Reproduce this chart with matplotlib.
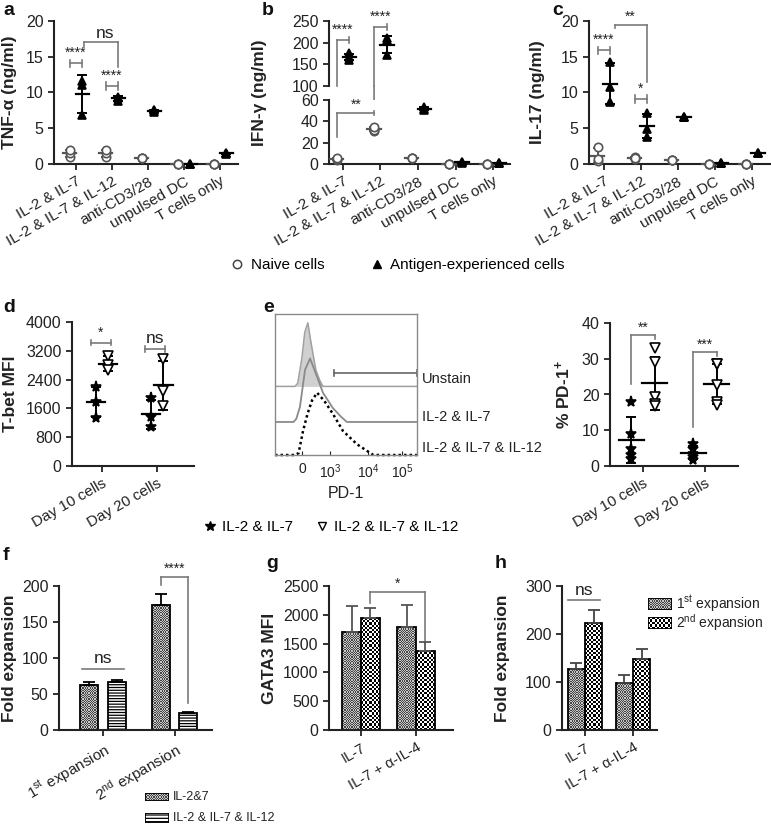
import numpy as np
import matplotlib
matplotlib.use('Agg')
import matplotlib.pyplot as plt
from matplotlib.lines import Line2D
from matplotlib.patches import ConnectionPatch
from matplotlib.colors import ListedColormap

plt.rcParams['font.family'] = 'Liberation Sans'
plt.rcParams['mathtext.fontset'] = 'custom'
plt.rcParams['mathtext.rm'] = 'Liberation Sans'
plt.rcParams['mathtext.bf'] = 'Liberation Sans:bold'
plt.rcParams['mathtext.it'] = 'Liberation Sans:italic'
plt.rcParams['mathtext.default'] = 'regular'
plt.rcParams['hatch.linewidth'] = 0.9

# ---------------- data ----------------
stim_cats = ['IL-2 & IL-7', 'IL-2 & IL-7 & IL-12', 'anti-CD3/28', 'unpulsed DC', 'T cells only']

tnf_naive = [[1.0, 1.5, 2.0], [1.0, 1.5, 2.0], [0.9, 0.9, 0.9], [0, 0, 0], [0, 0, 0]]
tnf_antigen = [[11.6, 11.0, 6.8], [9.4, 8.8, 9.3], [7.5, 7.3, 7.6], [0.05, 0.05, 0.05], [1.5, 1.6, 1.4]]

ifn_naive = [[4, 5, 6], [31, 32, 35], [6, 6, 6], [0, 0, 0], [0, 0, 0]]
ifn_antigen = [[175, 166, 161], [210, 205, 172], [51, 52, 53], [1, 1.5, 2], [0.5, 0.5, 0.5]]

il17_naive = [[2.4, 0.4, 0.7], [1.0, 0.7, 0.8], [0.6, 0.6, 0.6], [0, 0, 0], [0, 0, 0]]
il17_antigen = [[14.3, 10.7, 8.7], [7.1, 4.9, 3.8], [6.6, 6.6, 6.6], [0.1, 0.1, 0.1], [1.5, 1.5, 1.5]]

day_cats = ['Day 10 cells', 'Day 20 cells']
tbet_il27 = [[2190, 1790, 1340], [1880, 1350, 1090]]
tbet_il12 = [[3060, 2810, 2670], [2980, 2080, 1660]]
pd1_il27 = [[17.9, 9.0, 4.8, 3.0, 2.0], [6.2, 4.8, 3.4, 2.5, 1.6]]
pd1_il12 = [[33.0, 29.0, 19.3, 17.4, 16.7], [28.6, 28.4, 22.6, 17.9, 17.2]]

# PD-1 histograms (display position on biexponential axis, % of mode)
pd1_ticks = [0, 1, 2.36, 3.57]
pd1_ticklabels = ['0', '$10^3$', '$10^4$', '$10^5$']
unstain_x = [-0.96, -0.25, -0.15, 0.0, 0.1, 0.21, 0.3, 0.39, 0.5, 0.64, 0.75, 4.1]
unstain_y = [0, 0, 5, 45, 85, 100, 75, 52, 25, 9, 0, 0]
il27_x = [-0.96, -0.3, -0.2, -0.07, 0.11, 0.29, 0.54, 0.75, 1.1, 1.4, 1.6, 4.1]
il27_y = [0, 0, 5, 24, 82, 100, 71, 46, 22, 8, 0, 0]
il12_x = [-0.96, -0.25, -0.12, 0.04, 0.2, 0.36, 0.54, 0.8, 1.1, 1.46, 1.96, 2.3, 2.55, 4.1]
il12_y = [0, 0, 3, 38, 65, 86, 98, 85, 65, 38, 17, 7, 0, 0]
hist_offsets = [108, 52, 0]
gate_start = 1.14

exp_cats = ['$\\mathrm{1^{st}\\ expansion}$', '$\\mathrm{2^{nd}\\ expansion}$']
fold_il27 = [62, 173]
fold_il27_sd = [5, 16]
fold_il12 = [67, 23]
fold_il12_sd = [2, 2]

il4_cats = ['IL-7', 'IL-7 + α-IL-4']
gata3_first = [1710, 1790]
gata3_first_sd = [440, 380]
gata3_second = [1940, 1380]
gata3_second_sd = [170, 140]
fold_first = [127, 97]
fold_first_sd = [13, 18]
fold_second = [222, 147]
fold_second_sd = [28, 22]

# ---------------- helpers ----------------
W, H = 771, 830
fig = plt.figure(figsize=(W / 100, H / 100), dpi=100)


def px_ax(l, t, r, b):
    return fig.add_axes([l / W, 1 - b / H, (r - l) / W, (b - t) / H])


def style(ax, size=11.5):
    for s in ('top', 'right'):
        ax.spines[s].set_visible(False)
    for s in ('left', 'bottom'):
        ax.spines[s].set_linewidth(1.5)
        ax.spines[s].set_color('#222')
    ax.tick_params(width=1.3, length=4, labelsize=size, colors='#222')


def scatter_sd(ax, x, vals, marker, mfc, col, ms=6, hw=0.18, rng=None):
    vals = np.asarray(vals, float)
    m, sd = vals.mean(), vals.std(ddof=1)
    if rng is not None and not (rng[0] <= m <= rng[1]):
        return
    ax.plot(np.full(len(vals), x), vals, ls='none', marker=marker, mfc=mfc, mec=col,
            mew=1.2, ms=ms, clip_on=False, zorder=4)
    ax.errorbar(x, m, yerr=sd, fmt='none', ecolor=col, elinewidth=1.4, capsize=3.5,
                capthick=1.4, clip_on=False, zorder=3)
    ax.plot([x - hw, x + hw], [m, m], color=col, lw=1.6, clip_on=False, zorder=3)


def bracket(ax, x1, x2, y, left, right, txt, fs=10, tx=None, ty=None):
    ax.plot([x1, x2], [y, y], color='#7a7a7a', lw=1.2, clip_on=False)
    ax.plot([x1, x1], left, color='#7a7a7a', lw=1.2, clip_on=False)
    ax.plot([x2, x2], right, color='#7a7a7a', lw=1.2, clip_on=False)
    ax.text((x1 + x2) / 2 if tx is None else tx, max(left + right) if ty is None else ty,
            txt, ha='center', va='bottom', fontsize=fs, color='#222')


def checker(ax, rect, cell, colors):
    x0, y0 = rect.get_x(), rect.get_y()
    w, h = rect.get_width(), rect.get_height()
    (a0, b0), (a1, b1) = ax.transData.transform([(x0, y0), (x0 + w, y0 + h)])
    nx = max(1, int(round((a1 - a0) / cell)))
    ny = max(1, int(round((b1 - b0) / cell)))
    grid = np.indices((ny, nx)).sum(axis=0) % 2
    im = ax.imshow(grid, extent=(x0, x0 + w, y0, y0 + h), cmap=ListedColormap(colors),
                   origin='lower', interpolation='nearest', aspect='auto', zorder=1.5)
    im.set_clip_path(rect)


FINE = (1.2, ['#444444', '#c8c8c8'])
COARSE = (2.2, ['black', 'white'])


def cyto_panel(ax, naive, antigen, rng=None):
    for i in range(len(stim_cats)):
        scatter_sd(ax, i - 0.17, naive[i], 'o', 'white', '#555', ms=6, rng=rng)
        scatter_sd(ax, i + 0.17, antigen[i], '^', 'black', 'black', ms=6, rng=rng)


def ylab(ax, text, right_px, left_px, width_px, yfrac=0.5):
    ax.set_ylabel(text, fontsize=12.5, fontweight='bold', color='#222')
    ax.yaxis.set_label_coords((right_px - left_px) / width_px, yfrac)


# ---------------- a ----------------
axa = px_ax(54, 21, 238, 164)
style(axa)
cyto_panel(axa, tnf_naive, tnf_antigen)
axa.set_xlim(-0.61, 4.5)
axa.set_ylim(0, 20)
axa.set_yticks([0, 5, 10, 15, 20])
axa.set_xticks(range(5))
axa.set_xticklabels(stim_cats, rotation=30, ha='right', rotation_mode='anchor', fontsize=11)
ylab(axa, 'TNF-α (ng/ml)', 17, 54, 184)
bracket(axa, -0.17, 0.17, 14.1, [13.6, 14.6], [13.6, 14.6], '****')
bracket(axa, 0.83, 1.17, 10.9, [10.4, 11.4], [10.4, 11.4], '****')
bracket(axa, 0.22, 1.17, 17.0, [16.4, 17.0], [13.6, 17.0], 'ns', fs=12.5, tx=0.8, ty=17.2)

# ---------------- b (broken axis) ----------------
axbt = px_ax(329, 21, 510, 86)
axb = px_ax(329, 100, 510, 164)
for ax in (axbt, axb):
    style(ax)
    ax.set_xlim(-0.37, 4.45)
axbt.spines['bottom'].set_visible(False)
axbt.tick_params(axis='x', bottom=False, labelbottom=False)
cyto_panel(axbt, ifn_naive, ifn_antigen, rng=(80, 300))
cyto_panel(axb, ifn_naive, ifn_antigen, rng=(-1, 80))
axbt.set_ylim(100, 250)
axbt.set_yticks([100, 150, 200, 250])
axb.set_ylim(0, 60)
axb.set_yticks([0, 20, 40, 60])
axb.set_xticks(range(5))
axb.set_xticklabels(stim_cats, rotation=30, ha='right', rotation_mode='anchor', fontsize=11)
ylab(axb, 'IFN-γ (ng/ml)', 267, 329, 181, (164 - 93) / 64)
bracket(axbt, -0.17, 0.17, 206, [100, 206], [200, 212], '****', ty=213)
bracket(axbt, 0.83, 1.17, 236, [100, 236], [230, 242], '****', ty=243)
axbt.add_artist(ConnectionPatch(xyA=(0.83, 43), coordsA=axb.transData,
                                xyB=(0.83, 100), coordsB=axbt.transData,
                                color='#7a7a7a', lw=1.2))
bracket(axb, -0.17, 0.83, 47.5, [25.6, 47.5], [45.5, 49.5], '**', tx=0.35, ty=49)

# ---------------- c ----------------
axc = px_ax(589, 21, 770, 164)
style(axc)
cyto_panel(axc, il17_naive, il17_antigen)
axc.set_xlim(-0.4, 4.49)
axc.set_ylim(0, 20)
axc.set_yticks([0, 5, 10, 15, 20])
axc.set_xticks(range(5))
axc.set_xticklabels(stim_cats, rotation=30, ha='right', rotation_mode='anchor', fontsize=11)
ylab(axc, 'IL-17 (ng/ml)', 545, 589, 181)
bracket(axc, -0.17, 0.17, 15.9, [15.4, 16.4], [15.4, 16.4], '****')
bracket(axc, 0.83, 1.17, 9.1, [8.6, 9.6], [8.6, 9.6], '*')
bracket(axc, 0.3, 1.17, 19.5, [19.0, 19.5], [11.5, 19.5], '**', tx=0.72, ty=19.6)

fig.legend(handles=[Line2D([], [], ls='none', marker='o', mfc='white', mec='#444', mew=1.1, ms=6),
                    Line2D([], [], ls='none', marker='^', color='black', ms=6)],
           labels=['Naive cells', 'Antigen-experienced cells'], loc='center',
           bbox_to_anchor=(398 / W, 1 - 265 / H), ncol=2, frameon=False, fontsize=11,
           handlelength=0.8, handletextpad=0.5, columnspacing=3.0)

# ---------------- d ----------------
axd = px_ax(72, 322, 194, 466)
style(axd)
for i in range(2):
    scatter_sd(axd, i - 0.11, tbet_il27[i], '*', 'black', 'black', ms=8, hw=0.17)
    scatter_sd(axd, i + 0.11, tbet_il12[i], 'v', 'white', 'black', ms=6.5, hw=0.17)
axd.set_xlim(-0.545, 1.67)
axd.set_ylim(0, 4000)
axd.set_yticks(np.arange(0, 4001, 800))
axd.set_xticks(range(2))
axd.set_xticklabels(day_cats, rotation=30, ha='right', rotation_mode='anchor', fontsize=11)
ylab(axd, 'T-bet MFI', 18, 72, 122)
bracket(axd, -0.2, 0.16, 3430, [3360, 3500], [3360, 3500], '*')
bracket(axd, 0.78, 1.15, 3250, [3180, 3320], [3180, 3320], 'ns', fs=12.5)

# ---------------- e histogram ----------------
axh = px_ax(275, 314, 417, 455)
for s in axh.spines.values():
    s.set_color('#8a8a8a')
    s.set_linewidth(1.0)
axh.fill_between(unstain_x, hist_offsets[0], hist_offsets[0] + np.array(unstain_y),
                 color='#d0d0d0', lw=0)
axh.plot(unstain_x, hist_offsets[0] + np.array(unstain_y), color='#a0a0a0', lw=1.1)
axh.plot(il27_x, hist_offsets[1] + np.array(il27_y), color='#8a8a8a', lw=1.3)
axh.plot(il12_x, hist_offsets[2] + np.array(il12_y), color='black', lw=1.8,
         ls=(0, (1.0, 1.2)), clip_on=False)
axh.plot([gate_start, 4.1], [129, 129], color='#666', lw=1.2, clip_on=False)
axh.plot([gate_start, gate_start], [124, 134], color='#666', lw=1.2)
axh.plot([4.1, 4.1], [124, 134], color='#666', lw=1.2, clip_on=False)
axh.set_xlim(-0.96, 4.1)
axh.set_ylim(0, 222)
axh.set_yticks([])
axh.set_xticks(pd1_ticks)
axh.set_xticklabels(pd1_ticklabels)
axh.tick_params(axis='x', direction='in', length=3, width=0.8, labelsize=10, colors='#222', pad=5)
axh.set_xlabel('PD-1', fontsize=11.5, color='#222', labelpad=4)
for lbl, yf in zip(['Unstain', 'IL-2 & IL-7', 'IL-2 & IL-7 & IL-12'], [0.54, 0.27, 0.05]):
    axh.text(1.035, yf, lbl, transform=axh.transAxes, ha='left', va='center', fontsize=10.5, color='#222')

# ---------------- e % PD-1 ----------------
axp = px_ax(610, 323, 738, 466)
style(axp)
for i in range(2):
    scatter_sd(axp, i - 0.19, pd1_il27[i], '*', 'black', 'black', ms=8, hw=0.2)
    scatter_sd(axp, i + 0.19, pd1_il12[i], 'v', 'white', 'black', ms=6.5, hw=0.2)
axp.set_xlim(-0.53, 1.53)
axp.set_ylim(0, 40)
axp.set_yticks([0, 10, 20, 30, 40])
axp.set_xticks(range(2))
axp.set_xticklabels(day_cats, rotation=30, ha='right', rotation_mode='anchor', fontsize=11)
ylab(axp, '% PD-1$^{\\mathbf{+}}$', 573, 610, 128)
bracket(axp, -0.19, 0.19, 36.7, [23, 36.7], [35.5, 36.7], '**')
bracket(axp, 0.81, 1.19, 32, [10.9, 32], [30.8, 32], '***')

fig.legend(handles=[Line2D([], [], ls='none', marker='*', color='black', ms=7),
                    Line2D([], [], ls='none', marker='v', mfc='white', mec='black', mew=1.0, ms=6)],
           labels=['IL-2 & IL-7', 'IL-2 & IL-7 & IL-12'], loc='center',
           bbox_to_anchor=(331 / W, 1 - 527 / H), ncol=2, frameon=False, fontsize=11,
           handlelength=0.8, handletextpad=0.4, columnspacing=1.5)

# ---------------- f ----------------
axf = px_ax(59, 586, 212, 730)
style(axf)
axf.set_xlim(-0.615, 1.52)
axf.set_ylim(0, 200)
xf = np.arange(2)
b1 = axf.bar(xf - 0.19, fold_il27, 0.25, facecolor='none', edgecolor='black', lw=1.3, zorder=2)
b2 = axf.bar(xf + 0.19, fold_il12, 0.25, facecolor='white', edgecolor='black', lw=1.3,
             hatch='------', zorder=2)
for r in b1:
    checker(axf, r, *FINE)
axf.errorbar(xf - 0.19, fold_il27, yerr=[np.zeros(2), fold_il27_sd], fmt='none', ecolor='black',
             elinewidth=1.3, capsize=4, capthick=1.3, zorder=3)
axf.errorbar(xf + 0.19, fold_il12, yerr=[np.zeros(2), fold_il12_sd], fmt='none', ecolor='black',
             elinewidth=1.3, capsize=4, capthick=1.3, zorder=3)
axf.set_xlim(-0.615, 1.52)
axf.set_ylim(0, 200)
axf.set_yticks([0, 50, 100, 150, 200])
axf.set_xticks(xf)
axf.set_xticklabels(exp_cats, rotation=30, ha='right', rotation_mode='anchor', fontsize=11)
ylab(axf, 'Fold expansion', 17, 59, 153)
axf.plot([-0.29, 0.29], [85, 85], color='#7a7a7a', lw=1.2)
axf.text(0, 89, 'ns', ha='center', va='bottom', fontsize=12.5, color='#222')
bracket(axf, 0.81, 1.19, 212, [201, 212], [37.5, 212], '****', ty=214)


def swatch(l, t, r, b, kind):
    sa = px_ax(l, t, r, b)
    sa.set_axis_off()
    sa.set_xlim(0, 1)
    sa.set_ylim(0, 1)
    if kind == 'stripe':
        sa.bar([0.5], [1], 1, facecolor='white', edgecolor='black', lw=1.3, hatch='-----', zorder=2)
    else:
        rect = sa.bar([0.5], [1], 1, facecolor='none', edgecolor='black', lw=1.3, zorder=2)[0]
        checker(sa, rect, *(FINE if kind == 'fine' else COARSE))
        sa.set_xlim(0, 1)
        sa.set_ylim(0, 1)


swatch(145, 793, 169, 801, 'fine')
fig.text(173 / W, 1 - 797 / H, 'IL-2&7', fontsize=9, va='center', color='#222')
swatch(145, 813, 169, 823, 'stripe')
fig.text(173 / W, 1 - 818 / H, 'IL-2 & IL-7 & IL-12', fontsize=9, va='center', color='#222')

# ---------------- g ----------------
axg = px_ax(329, 586, 453, 730)
style(axg)
axg.set_xlim(-0.58, 1.67)
axg.set_ylim(0, 2500)
xg = np.arange(2)
g1 = axg.bar(xg - 0.17, gata3_first, 0.34, facecolor='none', edgecolor='black', lw=1.3, zorder=2)
g2 = axg.bar(xg + 0.17, gata3_second, 0.34, facecolor='none', edgecolor='black', lw=1.3, zorder=2)
for r in g1:
    checker(axg, r, *FINE)
for r in g2:
    checker(axg, r, *COARSE)
axg.errorbar(xg - 0.17, gata3_first, yerr=[np.zeros(2), gata3_first_sd], fmt='none',
             ecolor='#555', elinewidth=1.3, capsize=4, capthick=1.3, zorder=3)
axg.errorbar(xg + 0.17, gata3_second, yerr=[np.zeros(2), gata3_second_sd], fmt='none',
             ecolor='#555', elinewidth=1.3, capsize=4, capthick=1.3, zorder=3)
axg.set_xlim(-0.58, 1.67)
axg.set_ylim(0, 2500)
axg.set_yticks([0, 500, 1000, 1500, 2000, 2500])
axg.set_xticks(xg)
axg.set_xticklabels(il4_cats, rotation=30, ha='right', rotation_mode='anchor', fontsize=10.5)
ylab(axg, 'GATA3 MFI', 277, 329, 124)
bracket(axg, 0.17, 1.17, 2400, [2200, 2400], [1510, 2400], '*', ty=2410)

# ---------------- h ----------------
axh2 = px_ax(562, 586, 657, 730)
style(axh2)
axh2.set_xlim(-0.48, 1.5)
axh2.set_ylim(0, 300)
xh = np.arange(2)
h1 = axh2.bar(xh - 0.18, fold_first, 0.35, facecolor='none', edgecolor='black', lw=1.3, zorder=2)
h2 = axh2.bar(xh + 0.18, fold_second, 0.35, facecolor='none', edgecolor='black', lw=1.3, zorder=2)
for r in h1:
    checker(axh2, r, *FINE)
for r in h2:
    checker(axh2, r, *COARSE)
axh2.errorbar(xh - 0.18, fold_first, yerr=[np.zeros(2), fold_first_sd], fmt='none',
              ecolor='#444', elinewidth=1.3, capsize=4, capthick=1.3, zorder=3)
axh2.errorbar(xh + 0.18, fold_second, yerr=[np.zeros(2), fold_second_sd], fmt='none',
              ecolor='#444', elinewidth=1.3, capsize=4, capthick=1.3, zorder=3)
axh2.set_xlim(-0.48, 1.5)
axh2.set_ylim(0, 300)
axh2.set_yticks([0, 100, 200, 300])
axh2.set_xticks(xh)
axh2.set_xticklabels(il4_cats, rotation=30, ha='right', rotation_mode='anchor', fontsize=10.5)
ylab(axh2, 'Fold expansion', 510, 562, 95)
axh2.plot([-0.35, 0.31], [271, 271], color='#7a7a7a', lw=1.2)
axh2.text(-0.02, 275, 'ns', ha='center', va='bottom', fontsize=12.5, color='#222')

swatch(648, 598, 672, 610, 'fine')
fig.text(676 / W, 1 - 604 / H, '$\\mathrm{1^{st}\\ expansion}$', fontsize=10, va='center', color='#222')
swatch(648, 617, 672, 629, 'coarse')
fig.text(676 / W, 1 - 623 / H, '$\\mathrm{2^{nd}\\ expansion}$', fontsize=10, va='center', color='#222')

# ---------------- panel letters ----------------
for letter, x, y in [('a', 3, 15), ('b', 262, 15), ('c', 552, 15), ('d', 3, 312),
                     ('e', 263, 312), ('f', 3, 560), ('g', 266, 568), ('h', 495, 568)]:
    fig.text(x / W, 1 - y / H, letter, fontsize=14, fontweight='bold', va='baseline', color='#111')

fig.savefig('out.png', dpi=100, facecolor='white')
